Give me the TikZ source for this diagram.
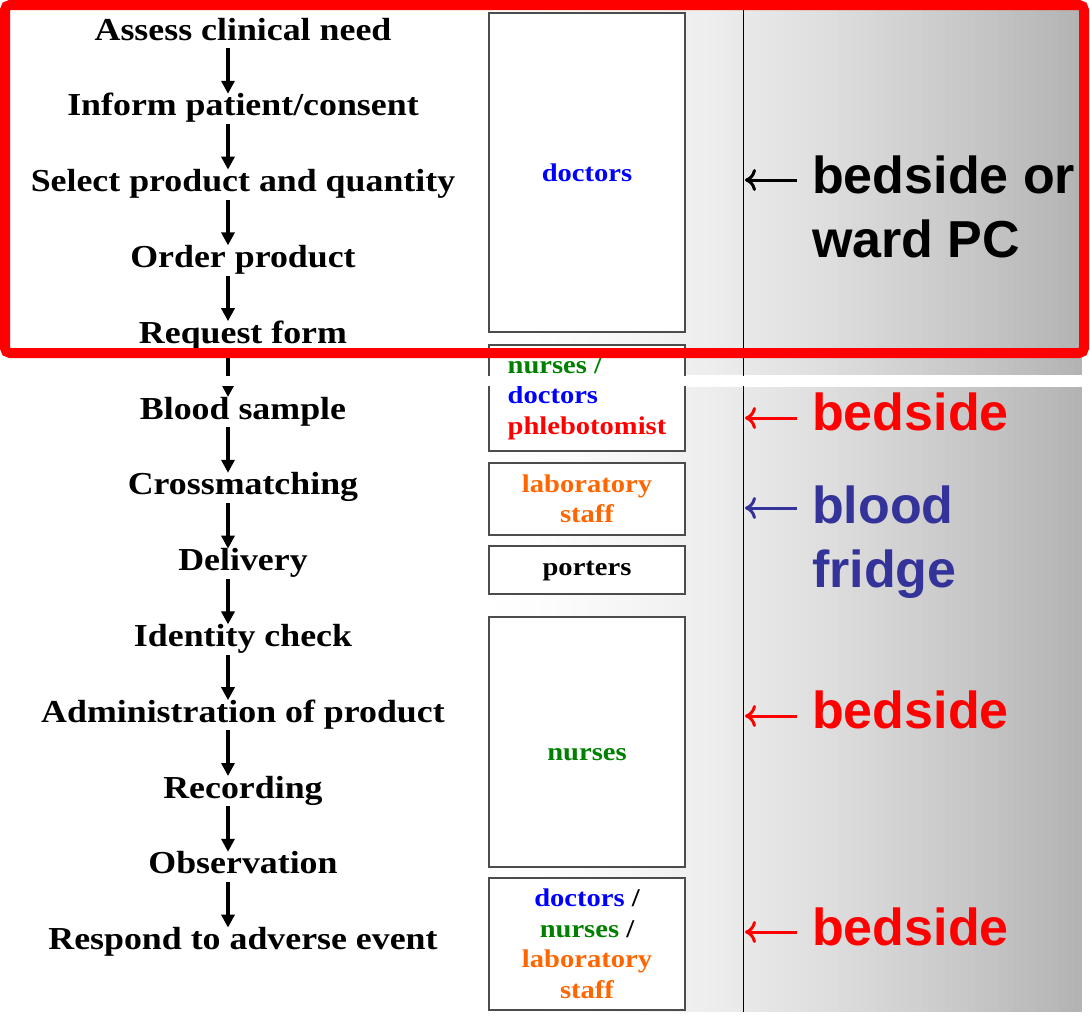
\documentclass[tikz,border=0pt]{standalone}
\usepackage{fontspec}
\setmainfont{Liberation Serif}
\newfontfamily\stepfont[FakeStretch=1.12]{Liberation Serif}
\newfontfamily\sitefont{Liberation Sans}
\usetikzlibrary{arrows.meta, positioning}

\definecolor{docblue}{RGB}{0,0,255}
\definecolor{nursegreen}{RGB}{0,128,0}
\definecolor{laborange}{RGB}{255,102,0}
\definecolor{fridgeblue}{RGB}{51,51,153}

\begin{document}
\begin{tikzpicture}[x=1pt, y=-1pt, node distance=75.8pt,
  stepnode/.style={font=\stepfont\bfseries\fontsize{32}{36}\selectfont, inner sep=0pt, minimum height=32pt, text height=23pt, text depth=7pt},
  flow/.style={-{Triangle[length=13pt, width=13pt]}, line width=3.6pt, shorten >=14pt},
  rolebox/.style={draw=black!70, line width=1.2pt, fill=white, minimum width=196pt, inner sep=0pt, font=\stepfont\bfseries\fontsize{25.5}{30.5}\selectfont, align=center},
  sitetext/.style={font=\sitefont\bfseries\fontsize{52}{64}\selectfont, inner sep=0pt, align=left, anchor=base west},
  sitearrow/.style={-{To[length=11pt, width=22pt]}, line width=3pt}]

\useasboundingbox (0,0) rectangle (1090,1023);

% slide backgrounds: white to grey, in strips
\foreach \i in {0,...,78} {
  \pgfmathsetmacro\xa{480+\i*7.62}
  \pgfmathsetmacro\xb{\xa+8}
  \pgfmathsetmacro\gr{30*((\i+0.5)/79)^1.5}
  \fill[black!\gr] (\xa,10) rectangle (\xb,375);
  \fill[black!\gr] (\xa,387) rectangle (\xb,1012);
}
\fill[white] (1082,0) rectangle (1090,1023);

% process steps
\node[stepnode]		(assess)	at (243,32)			{Assess clinical need};
\node[stepnode]		(inform)	[below of=assess]	{Inform patient/consent};
\node[stepnode]		(select)	[below of=inform]	{Select product and quantity};
\node[stepnode]		(order)		[below of=select]	{Order product};
\node[stepnode]		(request)	[below of=order]	{Request form};
\node[stepnode]		(sample)	[below of=request]	{Blood sample};
\node[stepnode]		(xmatch)	[below of=sample]	{Crossmatching};
\node[stepnode]		(deliver)	[below of=xmatch]	{Delivery};
\node[stepnode]		(idcheck)	[below of=deliver]	{Identity check};
\node[stepnode]		(admin)		[below of=idcheck]	{Administration of product};
\node[stepnode]		(record)	[below of=admin]	{Recording};
\node[stepnode]		(observe)	[below of=record]	{Observation};
\node[stepnode]		(respond)	[below of=observe]	{Respond to adverse event};

\foreach \a/\b in {assess/inform, inform/select, select/order, order/request, request/sample, sample/xmatch, xmatch/deliver, deliver/idcheck, idcheck/admin, admin/record, record/observe, observe/respond}
  \draw[flow] ([xshift=-15pt]\a.south) -- ([xshift=-15pt]\b.center);

% staff boxes
\node[rolebox, minimum height=319pt]	(docbox)	at (587,172.5)	{\textcolor{docblue}{doctors}};
\node[rolebox, minimum height=106pt, align=left]	(samplebox)	at (587,398)
  {\textcolor{nursegreen}{nurses /}\\\textcolor{docblue}{doctors}\\\textcolor{red}{phlebotomist}};
\node[rolebox, minimum height=72pt]		(labbox)	at (587,499)
  {\textcolor{laborange}{laboratory}\\\textcolor{laborange}{staff}};
\node[rolebox, minimum height=48pt, text height=17pt, text depth=6pt]	(porterbox)	at (587,570)	{porters};
\node[rolebox, minimum height=250pt]	(nursebox)	at (587,742)	{};
\node[font=\stepfont\bfseries\fontsize{25.5}{30.5}\selectfont, text=nursegreen] (nursetext) at ([yshift=-13pt]nursebox.center) {nurses};
\node[rolebox, minimum height=132pt]	(eventbox)	at (587,944)
  {\textcolor{docblue}{doctors} /\\\textcolor{nursegreen}{nurses} /\\\textcolor{laborange}{laboratory}\\\textcolor{laborange}{staff}};

% location divider
\coordinate (linetop) at (743,10);
\coordinate (linebot) at (743,1012);
\draw[line width=1pt] (linetop) -- (linebot);

% locations (base = last line)
\node[sitetext]						(pc)		at (812,257)	{bedside or\\ward PC};
\node[sitetext, text=red]			(bed1)		at (812,430)	{bedside};
\node[sitetext, text=fridgeblue]	(fridge)	at (812,587)	{blood\\fridge};
\node[sitetext, text=red]			(bed2)		at (812,728)	{bedside};
\node[sitetext, text=red]			(bed3)		at (812,945)	{bedside};

\foreach \n/\y/\c in {pc/180/black, bed1/418/red, fridge/508/fridgeblue, bed2/716/red, bed3/932/red} {
  \coordinate (\n from) at (797,\y);
  \coordinate (\n to) at (745,\y);
  \draw[sitearrow, \c] (\n from) -- (\n to);
}

% gap between the two slides
\fill[white] (0,376) rectangle (1090,386);

% highlight frame
\draw[red, line width=10pt, rounded corners=5pt] (5,5) rectangle (1084,353);

\end{tikzpicture}
\end{document}
